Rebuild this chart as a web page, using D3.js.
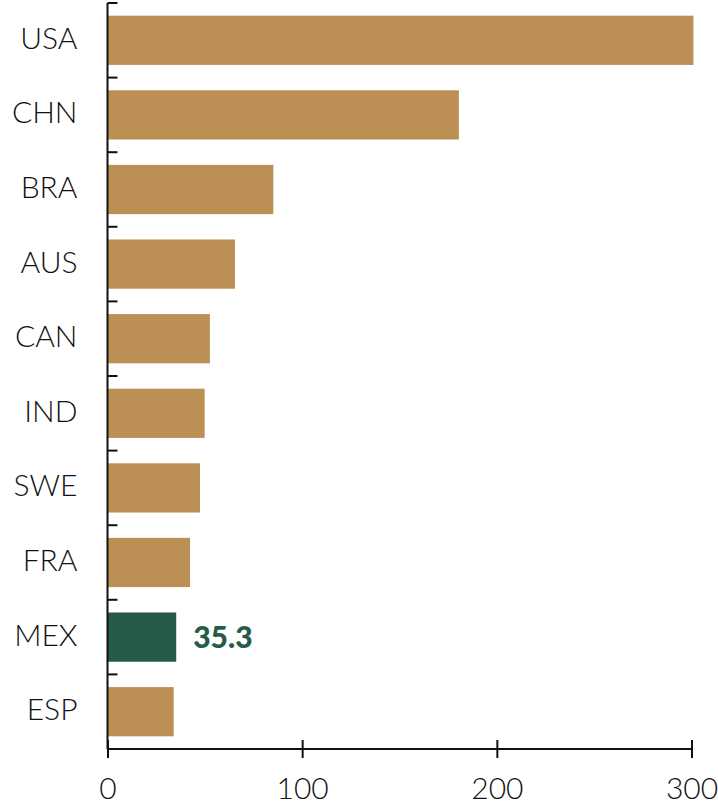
<!DOCTYPE html>
<html>
<head>
<meta charset="utf-8">
<script src="https://cdn.jsdelivr.net/npm/d3@7"></script>
<style>
  body { margin: 0; background: #fff; }
  text { font-family: Lato, "Open Sans", sans-serif; }
</style>
</head>
<body>
<div id="chart"></div>
<script>
// data
const countries = ["USA", "CHN", "BRA", "AUS", "CAN", "IND", "SWE", "FRA", "MEX", "ESP"];
const values = [301, 180.5, 85.2, 65.5, 52.6, 49.9, 47.5, 42.4, 35.3, 34.0];
const highlight = "MEX";
const xTicks = [0, 100, 200, 300];

const width = 718, height = 804;
const margin = {top: 3, right: 26, bottom: 55, left: 107.5};

const svg = d3.select("#chart").append("svg")
    .attr("width", width)
    .attr("height", height);

const data = countries.map((c, i) => ({name: c, value: values[i]}));

const x = d3.scaleLinear()
    .domain([0, 300])
    .range([margin.left, width - margin.right - 0.5]);

const y = d3.scaleBand()
    .domain(countries)
    .range([margin.top, height - margin.bottom])
    .paddingInner(0.34)
    .paddingOuter(0.17);

// bars
svg.append("g").selectAll("rect")
    .data(data)
    .enter().append("rect")
    .attr("x", x(0))
    .attr("y", d => y(d.name))
    .attr("width", d => x(d.value) - x(0))
    .attr("height", y.bandwidth())
    .attr("fill", d => d.name == highlight ? "#265b4b" : "#bc9055");

// value label on the highlighted bar
const h = data.find(d => d.name == highlight);
svg.append("text")
    .attr("x", x(h.value) + 17)
    .attr("y", y(h.name) + y.bandwidth() / 2)
    .attr("dy", "0.35em")
    .attr("font-size", 30)
    .attr("font-weight", 900)
    .attr("fill", "#265b4b")
    .text(h.value.toFixed(1));

// y axis: labels only, ticks drawn at band edges below
const yAxis = svg.append("g")
    .attr("transform", `translate(${x(0)},0)`)
    .call(d3.axisLeft(y).tickSize(0).tickPadding(30));
yAxis.select(".domain").remove();
yAxis.selectAll("text")
    .attr("font-size", 30)
    .attr("font-weight", 300)
    .attr("dy", "0.28em")
    .attr("fill", "#111")
    .style("font-family", "Lato, 'Open Sans', sans-serif");

const step = y.step();
const edges = countries.map(c => y(c) - step * y.paddingInner() / 2);
svg.append("g").selectAll("line")
    .data(edges)
    .enter().append("line")
    .attr("x1", x(0))
    .attr("x2", x(0) + 10)
    .attr("y1", d => d)
    .attr("y2", d => d)
    .attr("stroke", "#111")
    .attr("stroke-width", 2);

svg.append("line")
    .attr("x1", x(0)).attr("x2", x(0))
    .attr("y1", margin.top).attr("y2", height - margin.bottom)
    .attr("stroke", "#111")
    .attr("stroke-width", 2);

// x axis
const xAxis = svg.append("g")
    .attr("transform", `translate(0,${height - margin.bottom})`)
    .call(d3.axisBottom(x).tickValues(xTicks).tickSize(9).tickPadding(20));
xAxis.select(".domain")
    .attr("d", `M${x(0)},0H${x(300)}`)
    .attr("stroke", "#111")
    .attr("stroke-width", 2);
xAxis.selectAll(".tick line")
    .attr("y1", -9)
    .attr("stroke", "#111")
    .attr("stroke-width", 2);
xAxis.selectAll("text")
    .attr("font-size", 30)
    .attr("font-weight", 300)
    .attr("fill", "#111")
    .style("font-family", "Lato, 'Open Sans', sans-serif");
</script>
</body>
</html>
